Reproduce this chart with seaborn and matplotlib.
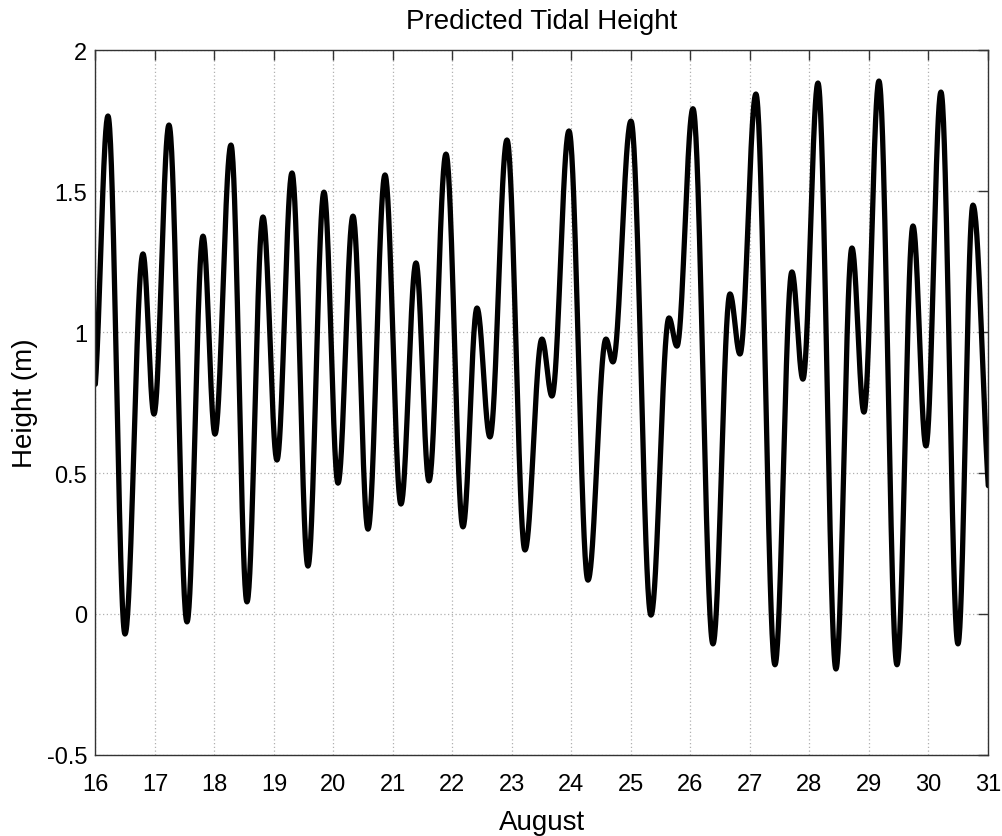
import numpy as np
import pandas as pd
import matplotlib
matplotlib.use("Agg")
import matplotlib.pyplot as plt
import seaborn as sns

# Turning points (high / low water): day of August, height (m)
turn_days = [15.96, 16.21, 16.496, 16.798, 16.983, 17.235, 17.538, 17.807, 18.008, 18.277,
             18.546, 18.815, 19.05, 19.303, 19.571, 19.84, 20.076, 20.328, 20.58, 20.866,
             21.134, 21.387, 21.605, 21.891, 22.176, 22.412, 22.63, 22.916, 23.218, 23.504,
             23.672, 23.958, 24.277, 24.58, 24.697, 25.0, 25.336, 25.639, 25.773, 26.042,
             26.378, 26.664, 26.832, 27.1, 27.42, 27.705, 27.89, 28.143, 28.445, 28.714,
             28.916, 29.168, 29.471, 29.74, 29.958, 30.21, 30.496, 30.748, 31.07]
turn_heights = [0.76, 1.766, -0.071, 1.277, 0.709, 1.734, -0.028, 1.34, 0.638, 1.663,
                0.043, 1.408, 0.546, 1.564, 0.17, 1.496, 0.464, 1.411, 0.301, 1.557,
                0.39, 1.245, 0.472, 1.631, 0.309, 1.085, 0.628, 1.681, 0.227, 0.975,
                0.773, 1.713, 0.12, 0.975, 0.894, 1.748, -0.004, 1.05, 0.95, 1.792,
                -0.106, 1.135, 0.922, 1.844, -0.18, 1.213, 0.833, 1.883, -0.195, 1.298,
                0.716, 1.89, -0.18, 1.376, 0.596, 1.851, -0.106, 1.45, 0.35]

x_ticks = list(range(16, 32))
y_ticks = [-0.5, 0, 0.5, 1, 1.5, 2]
y_tick_labels = ["-0.5", "0", "0.5", "1", "1.5", "2"]
title_text = "Predicted Tidal Height"
x_label = "August"
y_label = "Height (m)"

# Tide curve between successive turning points (cosine shape between high and low water)
seg_t, seg_h = [], []
for i in range(len(turn_days) - 1):
    t0, t1 = turn_days[i], turn_days[i + 1]
    h0, h1 = turn_heights[i], turn_heights[i + 1]
    s = np.linspace(0, 1, 40, endpoint=False)
    seg_t.append(t0 + (t1 - t0) * s)
    seg_h.append(h0 + (h1 - h0) * (1 - np.cos(np.pi * s)) / 2)
seg_t.append([turn_days[-1]])
seg_h.append([turn_heights[-1]])
df = pd.DataFrame({"day": np.concatenate(seg_t), "height": np.concatenate(seg_h)})

sns.set_style("white")
plt.rcParams["font.family"] = ["Liberation Sans", "DejaVu Sans"]
plt.rcParams["text.color"] = "black"
plt.rcParams["axes.labelcolor"] = "black"

fig = plt.figure(figsize=(10.03, 8.37), dpi=100)
ax = fig.add_axes([0.0952, 0.0968, 0.8898, 0.8422])

sns.lineplot(data=df, x="day", y="height", ax=ax, color="black", linewidth=3.8,
             sort=False, estimator=None)

ax.set_xlim(16, 31)
ax.set_ylim(-0.5, 2)
ax.set_xticks(x_ticks)
ax.set_xticklabels([str(v) for v in x_ticks])
ax.set_yticks(y_ticks)
ax.set_yticklabels(y_tick_labels)

ax.grid(True, color="#b0b0b0", linestyle=(0, (1, 2)), linewidth=0.9)
ax.set_axisbelow(True)
for sp in ax.spines.values():
    sp.set_visible(True)
    sp.set_color("#333333")
    sp.set_linewidth(1.0)

ax.tick_params(axis="both", which="both", direction="in", length=7, width=1,
               top=True, right=True, labelsize=17, labelcolor="black", color="#333333")
ax.tick_params(axis="x", pad=13)
ax.tick_params(axis="y", pad=6)

ax.set_title(title_text, fontsize=20, pad=16, color="black")
ax.set_xlabel(x_label, fontsize=20, labelpad=10, color="black")
ax.set_ylabel(y_label, fontsize=20, labelpad=6, color="black")

fig.savefig("out.png", dpi=100)
